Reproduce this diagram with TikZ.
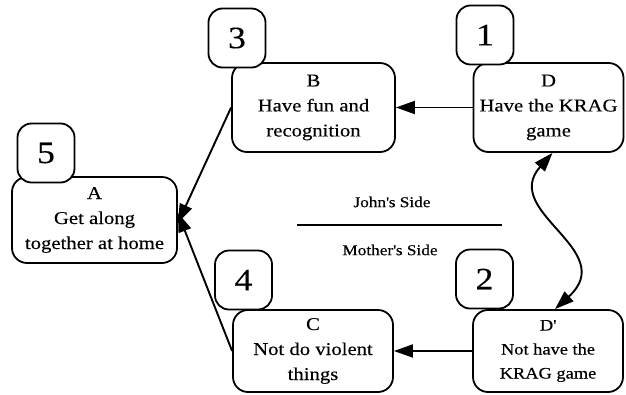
\documentclass[tikz,border=0pt]{standalone}
\usepackage{fontspec}
\setmainfont[FakeStretch=1.15,FakeBold=0.3]{Liberation Serif}
\usetikzlibrary{arrows.meta,calc}
\begin{document}
\begin{tikzpicture}[x=1pt,y=-1pt,
  bigbox/.style={draw,line width=1.8pt,rounded corners=15pt,inner sep=0pt,align=center,
    font=\fontsize{18}{25}\selectfont,fill=white},
  numbox/.style={draw,line width=1.8pt,rounded corners=14pt,inner sep=0pt,fill=white,
    font=\fontsize{31}{31}\selectfont,minimum width=57pt,minimum height=59pt},
  arr/.style={line width=1.9pt,-{Triangle[length=19pt,width=13pt]}},
  darr/.style={line width=1.9pt,{Triangle[length=19pt,width=13pt]}-{Triangle[length=19pt,width=13pt]}},
  sidelabel/.style={font=\fontsize{15}{15}\selectfont,inner sep=0pt}]
\useasboundingbox (0,0) rectangle (626,394);
\node[bigbox,minimum width=165pt,minimum height=86pt] (A) at (94.5,220) {A\\Get along\\together at home};
\node[bigbox,minimum width=163pt,minimum height=89pt] (B) at (313.5,107.5) {B\\Have fun and\\recognition};
\node[bigbox,minimum width=150pt,minimum height=89pt] (D) at (548.5,107.5) {D\\Have the KRAG\\game};
\node[bigbox,minimum width=160pt,minimum height=82pt] (C) at (313,351) {C\\Not do violent\\things};
\node[bigbox,minimum width=150pt,minimum height=82pt,font=\fontsize{16}{24}\selectfont] (Dp) at (548,351) {D\textquotesingle\\Not have the\\KRAG game};
\node[numbox] (n5) at (46,153) {5};
\node[numbox] (n3) at (237,38) {3};
\node[numbox] (n1) at (485,35) {1};
\node[numbox] (n4) at (243.5,280) {4};
\node[numbox] (n2) at (484.5,279) {2};
\coordinate (sepL) at (297,225);
\coordinate (sepR) at (502,225);
\draw[line width=2pt] (sepL) -- (sepR);
\node[sidelabel] (john) at (392,202) {John\textquotesingle s Side};
\node[sidelabel] (mother) at (390,250) {Mother\textquotesingle s Side};
\draw[arr] (D.west) -- (B.east);
\draw[arr] (Dp.west) -- (C.east);
\draw[arr] (B.west) -- ([yshift=-3pt]A.east);
\draw[arr] (C.west) -- ([yshift=7pt]A.east);
\draw[darr] ([xshift=4pt]D.south) .. controls (500,212) and (620,250) .. ([xshift=7pt]Dp.north);
\end{tikzpicture}
\end{document}
